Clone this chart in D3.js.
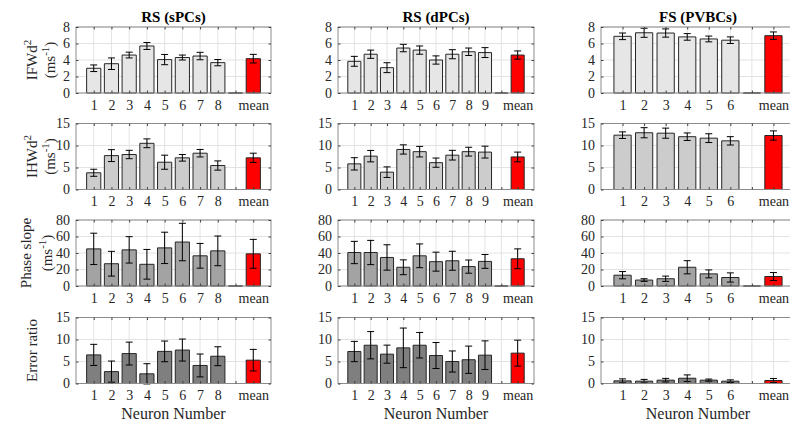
<!DOCTYPE html>
<html>
<head>
<meta charset="utf-8">
<script src="https://cdn.jsdelivr.net/npm/d3@7"></script>
<style>
  body { margin: 0; background: #ffffff; }
  svg text { font-family: "Liberation Serif", "Times New Roman", serif; fill: #262626; }
</style>
</head>
<body>
<div id="neuron_bars"></div>
<script>
// categories for each column (blank slot sits between the neurons and the mean)
var cats_spc = ["1", "2", "3", "4", "5", "6", "7", "8", "", "mean"];
var cats_dpc = ["1", "2", "3", "4", "5", "6", "7", "8", "9", "", "mean"];
var cats_pvbc = ["1", "2", "3", "4", "5", "6", "", "mean"];

var col_titles = ["RS (sPCs)", "RS (dPCs)", "FS (PVBCs)"];

// IFWd^2
var ifw_spc = [3.0, 3.55, 4.6, 5.7, 4.05, 4.3, 4.48, 3.68, 0, 4.16];
var ifw_spc_err = [0.4, 0.7, 0.35, 0.42, 0.62, 0.3, 0.45, 0.38, 0, 0.52];
var ifw_dpc = [3.84, 4.7, 3.07, 5.45, 5.2, 4.0, 4.7, 5.0, 4.9, 0, 4.6];
var ifw_dpc_err = [0.6, 0.5, 0.6, 0.45, 0.5, 0.5, 0.55, 0.45, 0.6, 0, 0.5];
var ifw_pvbc = [6.87, 7.3, 7.27, 6.8, 6.55, 6.4, 0, 6.95];
var ifw_pvbc_err = [0.4, 0.55, 0.5, 0.4, 0.35, 0.4, 0, 0.45];

// IHWd^2
var ihw_spc = [3.8, 7.7, 7.95, 10.5, 6.2, 7.2, 8.25, 5.45, 0, 7.2];
var ihw_spc_err = [0.8, 1.35, 0.95, 1.0, 1.6, 0.75, 0.85, 1.05, 0, 1.05];
var ihw_dpc = [5.83, 7.58, 3.94, 9.1, 8.6, 6.1, 7.8, 8.6, 8.5, 0, 7.4];
var ihw_dpc_err = [1.4, 1.3, 1.2, 1.05, 1.2, 1.05, 1.1, 1.0, 1.35, 0, 1.1];
var ihw_pvbc = [12.35, 12.9, 12.8, 12.0, 11.67, 11.06, 0, 12.27];
var ihw_pvbc_err = [0.75, 1.15, 1.15, 0.85, 1.0, 0.95, 0, 1.05];

// Phase slope
var slope_spc = [45, 27, 43.8, 26.3, 46.2, 53.3, 36.6, 42.6, 0, 39];
var slope_spc_err = [19, 15, 16, 18, 19, 22.7, 15, 18, 0, 17.5];
var slope_dpc = [40.6, 40.6, 34.6, 22.7, 36.6, 29.5, 30.6, 23.5, 29.8, 0, 33];
var slope_dpc_err = [13.5, 14.7, 15.4, 9, 14.4, 11.5, 11.5, 8, 8.4, 0, 12];
var slope_pvbc = [13.1, 7.2, 8.8, 22.7, 14.7, 10.3, 0, 11.5];
var slope_pvbc_err = [4.4, 1.6, 3.2, 8, 4.8, 5.6, 0, 4.8];

// Error ratio
var err_spc = [6.5, 2.7, 6.8, 2.2, 7.3, 7.6, 4.1, 6.2, 0, 5.3];
var err_spc_err = [2.4, 2.4, 2.6, 2.3, 2.35, 2.5, 2.6, 2.15, 0, 2.45];
var err_dpc = [7.27, 8.7, 6.67, 8.1, 8.7, 6.36, 5.0, 5.4, 6.44, 0, 6.9];
var err_dpc_err = [2.3, 3.1, 2.05, 4.5, 2.9, 2.95, 2.4, 3.1, 3.25, 0, 2.95];
var err_pvbc = [0.6, 0.53, 0.76, 1.2, 0.76, 0.53, 0, 0.68];
var err_pvbc_err = [0.45, 0.4, 0.4, 0.75, 0.25, 0.3, 0, 0.45];

var y_max = [8, 15, 80, 15];
var y_ticks = [[0, 2, 4, 6, 8], [0, 5, 10, 15], [0, 20, 40, 60, 80], [0, 5, 10, 15]];
var bar_fill = ["#e6e6e6", "#cccccc", "#a3a3a3", "#7f7f7f"];

var panels = [
  [[cats_spc, ifw_spc, ifw_spc_err], [cats_dpc, ifw_dpc, ifw_dpc_err], [cats_pvbc, ifw_pvbc, ifw_pvbc_err]],
  [[cats_spc, ihw_spc, ihw_spc_err], [cats_dpc, ihw_dpc, ihw_dpc_err], [cats_pvbc, ihw_pvbc, ihw_pvbc_err]],
  [[cats_spc, slope_spc, slope_spc_err], [cats_dpc, slope_dpc, slope_dpc_err], [cats_pvbc, slope_pvbc, slope_pvbc_err]],
  [[cats_spc, err_spc, err_spc_err], [cats_dpc, err_dpc, err_dpc_err], [cats_pvbc, err_pvbc, err_pvbc_err]]
];

// layout
var col_left = [76, 338, 601],
    col_width = [195, 196, 194],
    row_top = [27, 123.5, 220, 317.5],
    plot_height = 66;

var svg = d3.select("#neuron_bars")
  .append("svg")
  .attr("width", 790)
  .attr("height", 423)
  .attr("font-family", "Liberation Serif");

panels.forEach(function(row, r) {
  row.forEach(function(p, c) {
    var cats = p[0], vals = p[1], errs = p[2];
    var n = cats.length;

    var x = d3.scaleLinear()
      .domain([0, n + 1])
      .range([col_left[c], col_left[c] + col_width[c]]);
    var y = d3.scaleLinear()
      .domain([0, y_max[r]])
      .range([row_top[r] + plot_height, row_top[r]]);

    var g = svg.append("g");
    var x0 = x.range()[0], x1 = x.range()[1], y0 = y.range()[0], y1 = y.range()[1];

    // grid
    g.selectAll(".vgrid")
      .data(d3.range(1, n + 1))
      .enter()
      .append("line")
      .attr("x1", function(d) { return x(d); })
      .attr("x2", function(d) { return x(d); })
      .attr("y1", y0)
      .attr("y2", y1)
      .attr("stroke", "#e3e3e3")
      .attr("stroke-width", 1);

    g.selectAll(".hgrid")
      .data(y_ticks[r])
      .enter()
      .append("line")
      .attr("x1", x0)
      .attr("x2", x1)
      .attr("y1", function(d) { return y(d); })
      .attr("y2", function(d) { return y(d); })
      .attr("stroke", "#e3e3e3")
      .attr("stroke-width", 1);

    // bars (drawn as paths so a zero bar still shows as a dash)
    var bw = x(0.8) - x(0);
    g.selectAll(".bar")
      .data(vals)
      .enter()
      .append("path")
      .attr("d", function(d, i) {
        var bx = x(i + 1) - bw / 2;
        return "M" + bx + "," + y0 + "V" + y(d) + "H" + (bx + bw) + "V" + y0 + "Z";
      })
      .attr("fill", function(d, i) { return cats[i] === "mean" ? "#ff0000" : bar_fill[r]; })
      .attr("stroke", "#262626")
      .attr("stroke-width", 1);

    // error bars
    var eb = g.selectAll(".err")
      .data(vals.map(function(v, i) { return {i: i, v: v, e: errs[i]}; }).filter(function(d) { return cats[d.i] !== ""; }))
      .enter()
      .append("g")
      .attr("stroke", "#000000")
      .attr("stroke-width", 1);
    eb.append("line")
      .attr("x1", function(d) { return x(d.i + 1); })
      .attr("x2", function(d) { return x(d.i + 1); })
      .attr("y1", function(d) { return y(d.v - d.e); })
      .attr("y2", function(d) { return y(d.v + d.e); });
    eb.append("line")
      .attr("x1", function(d) { return x(d.i + 1) - 3.5; })
      .attr("x2", function(d) { return x(d.i + 1) + 3.5; })
      .attr("y1", function(d) { return y(d.v - d.e); })
      .attr("y2", function(d) { return y(d.v - d.e); });
    eb.append("line")
      .attr("x1", function(d) { return x(d.i + 1) - 3.5; })
      .attr("x2", function(d) { return x(d.i + 1) + 3.5; })
      .attr("y1", function(d) { return y(d.v + d.e); })
      .attr("y2", function(d) { return y(d.v + d.e); });

    // box
    g.append("rect")
      .attr("x", x0)
      .attr("y", y1)
      .attr("width", x1 - x0)
      .attr("height", y0 - y1)
      .attr("fill", "none")
      .attr("stroke", "#8c8c8c")
      .attr("stroke-width", 1);

    // x axis: inward ticks top and bottom, labels below
    var xa = g.append("g")
      .attr("transform", "translate(0," + y0 + ")")
      .call(d3.axisBottom(x).tickValues(d3.range(1, n + 1)).tickSizeInner(-2.5).tickSizeOuter(0).tickPadding(7)
        .tickFormat(function(d) { return cats[d - 1]; }));
    xa.select(".domain").remove();
    xa.selectAll("line").attr("stroke", "#404040");
    xa.selectAll("text").style("font-size", "14px").attr("fill", "#262626");

    var xt = g.append("g")
      .attr("transform", "translate(0," + y1 + ")")
      .call(d3.axisTop(x).tickValues(d3.range(1, n + 1)).tickSizeInner(-2.5).tickSizeOuter(0).tickFormat(""));
    xt.select(".domain").remove();
    xt.selectAll("line").attr("stroke", "#404040");

    // y axis
    var ya = g.append("g")
      .attr("transform", "translate(" + x0 + ",0)")
      .call(d3.axisLeft(y).tickValues(y_ticks[r]).tickSizeInner(-2.5).tickSizeOuter(0).tickPadding(6));
    ya.select(".domain").remove();
    ya.selectAll("line").attr("stroke", "#404040");
    ya.selectAll("text").style("font-size", "14px").attr("fill", "#262626");

    var yr = g.append("g")
      .attr("transform", "translate(" + x1 + ",0)")
      .call(d3.axisRight(y).tickValues(y_ticks[r]).tickSizeInner(-2.5).tickSizeOuter(0).tickFormat(""));
    yr.select(".domain").remove();
    yr.selectAll("line").attr("stroke", "#404040");

    if (r === 0) {
      svg.append("text")
        .attr("x", (x0 + x1) / 2)
        .attr("y", 22)
        .attr("text-anchor", "middle")
        .style("font-size", "15px")
        .style("font-weight", "bold")
        .style("fill", "#000000")
        .text(col_titles[c]);
    }
    if (r === 3) {
      svg.append("text")
        .attr("x", (x0 + x1) / 2)
        .attr("y", 419)
        .attr("text-anchor", "middle")
        .attr("font-family", "Liberation Serif")
        .style("font-size", "16px")
        .text("Neuron Number");
    }
  });
});

// y labels on the left column
function ylabel(yc, xb, main, sup) {
  var t = svg.append("text")
    .attr("transform", "translate(" + xb + "," + yc + ") rotate(-90)")
    .attr("text-anchor", "middle")
    .style("font-size", "15px")
    .text(main);
  if (sup) {
    t.append("tspan").attr("dy", -6).style("font-size", "11px").text(sup);
  }
  return t;
}
function unitlabel(yc, xb) {
  var t = svg.append("text")
    .attr("transform", "translate(" + xb + "," + yc + ") rotate(-90)")
    .attr("text-anchor", "middle")
    .style("font-size", "15px")
    .text("(ms");
  t.append("tspan").attr("dy", -6).style("font-size", "11px").text("-1");
  t.append("tspan").attr("dy", 6).text(")");
}

ylabel(row_top[0] + plot_height / 2, 37, "IFWd", "2");
unitlabel(row_top[0] + plot_height / 2, 55);
ylabel(row_top[1] + plot_height / 2, 37, "IHWd", "2");
unitlabel(row_top[1] + plot_height / 2, 55);
ylabel(row_top[2] + plot_height / 2, 31, "Phase slope");
unitlabel(row_top[2] + plot_height / 2, 52);
ylabel(row_top[3] + plot_height / 2, 37, "Error ratio");
</script>
</body>
</html>
